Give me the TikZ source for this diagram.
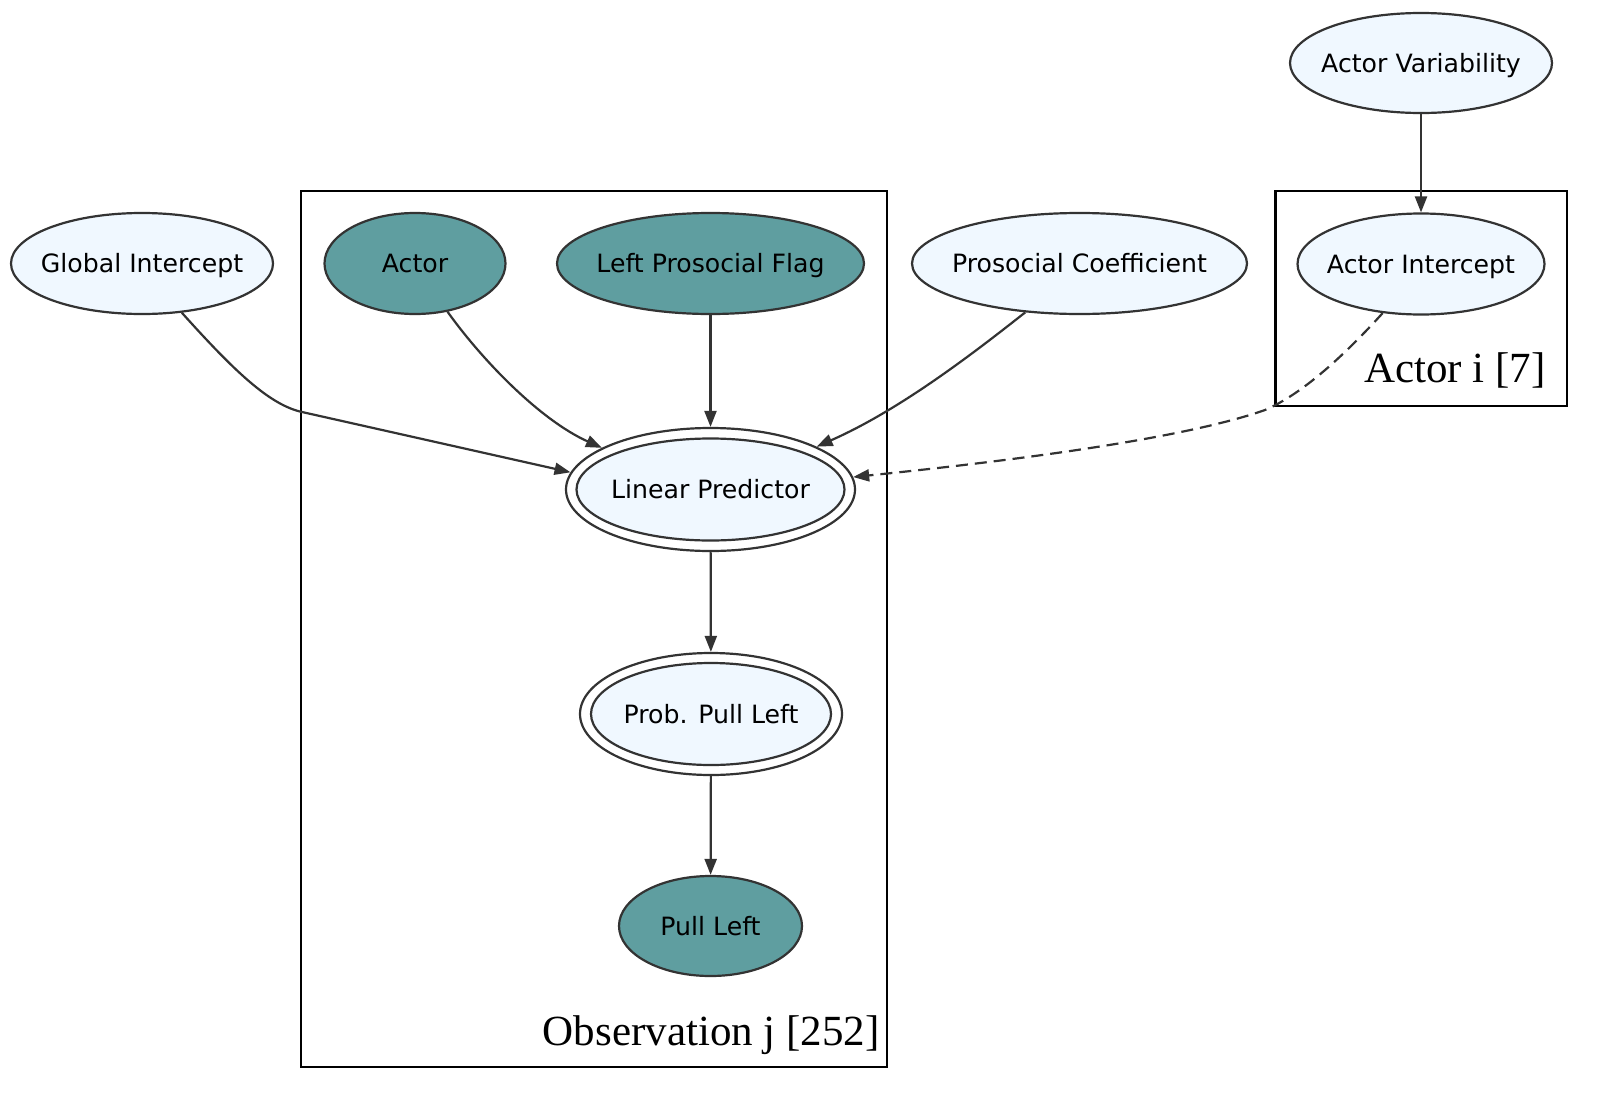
\documentclass[tikz,border=0pt]{standalone}
\usepackage{fontspec}
\newfontfamily\nodefont{DejaVu Sans}
\newfontfamily\platefont{Liberation Serif}
\usetikzlibrary{shapes.geometric,arrows.meta}
\definecolor{lightfill}{HTML}{F0F8FF}
\definecolor{obsfill}{HTML}{5F9EA0}
\definecolor{edgec}{HTML}{333333}
\newcommand{\gtext}[1]{\makebox[0pt]{#1}}
\begin{document}
\begin{tikzpicture}[x=0.5pt,y=-0.5pt,
  gnode/.style={ellipse, draw=edgec, line width=1.1pt, inner sep=0pt,
    text height=9.2pt, text depth=0pt,
    font=\nodefont\fontsize{12.6}{14}\selectfont},
  latent/.style={gnode, fill=lightfill},
  observed/.style={gnode, fill=obsfill},
  edgearrow/.style={draw=edgec, line width=1.1pt, -{Triangle[length=8pt,width=6pt]}},
  plate/.style={draw=black, line width=1.1pt},
  platelabel/.style={anchor=base east, inner sep=0pt, font=\platefont\fontsize{21.5}{24}\selectfont}]
\useasboundingbox (0,0) rectangle (1600,1103);

% plates
\draw[plate] (301,191) rectangle (887,1067);
\draw[plate] (1275.5,191) rectangle (1567,406);
\node[platelabel] (obslabel) at (880,1045) {Observation j [252]};
\node[platelabel] (actlabel) at (1546,382) {Actor i [7]};

% nodes
\node[latent, minimum width=131pt, minimum height=50pt] (av) at (1421,63) {\gtext{Actor Variability}};
\node[latent, minimum width=123.5pt, minimum height=50.5pt] (ai) at (1421,264) {\gtext{Actor Intercept}};
\node[latent, minimum width=131pt, minimum height=50.5pt] (gi) at (142,263.5) {\gtext{Global Intercept}};
\node[observed, minimum width=90.5pt, minimum height=50.5pt] (actor) at (415,263.5) {\gtext{Actor}};
\node[observed, minimum width=153.5pt, minimum height=50.5pt] (lpf) at (710.5,263.5) {\gtext{Left Prosocial Flag}};
\node[latent, minimum width=167.5pt, minimum height=50.5pt] (pc) at (1079.5,263.5) {\gtext{Prosocial Coefficient}};

\node[gnode, fill=white, minimum width=144.5pt, minimum height=61.5pt] (lp) at (710.5,489.5) {};
\node[latent, minimum width=134pt, minimum height=51pt] (lpi) at (lp.center) {\gtext{Linear Predictor}};

\node[gnode, fill=white, minimum width=131pt, minimum height=61pt] (ppl) at (711,714) {};
\node[latent, minimum width=120pt, minimum height=51pt] (ppli) at (ppl.center) {\gtext{Prob. Pull Left}};

\node[observed, minimum width=91.5pt, minimum height=50pt] (pl) at (710.5,926) {\gtext{Pull Left}};

% edges
\draw[edgearrow] (av) -- (ai);
\draw[edgearrow] (gi.-51) .. controls (235,372) and (270,405) .. (302,412) -- (lp.173);
\draw[edgearrow] (actor.-56) .. controls (482,360) and (540,420) .. (lp.159);
\draw[edgearrow] (lpf) -- (lp);
\draw[edgearrow] (pc.-138) .. controls (975,352) and (900,410) .. (lp.22);
\draw[edgearrow, dash pattern=on 6pt off 3.5pt] (ai.-128) .. controls (1340,360) and (1300,395) .. (1265,410) .. controls (1180,440) and (1000,462) .. (lp.5);
\draw[edgearrow] (lp) -- (ppl);
\draw[edgearrow] (ppl) -- (pl);
\end{tikzpicture}
\end{document}
